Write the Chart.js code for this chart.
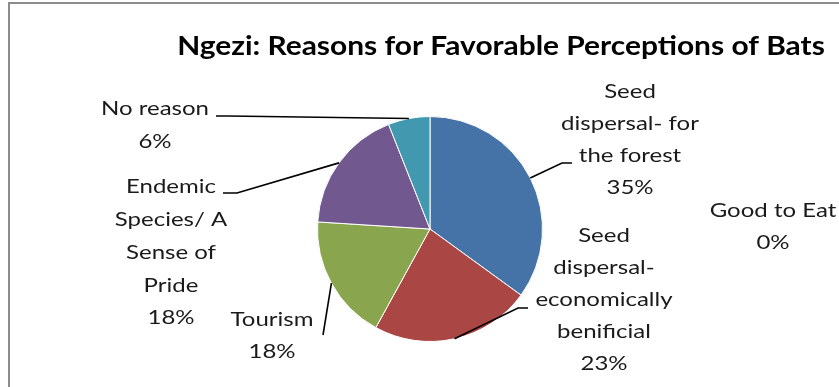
<!DOCTYPE html>
<html>
<head>
    <title>Ngezi: Reasons for Favorable Perceptions of Bats</title>
    <script src="https://cdn.jsdelivr.net/npm/chart.js"></script>
    <style>
        html, body {
            margin: 0;
            padding: 0;
            background: #fff;
        }
        .frame {
            position: absolute;
            left: 8px;
            top: 2px;
            width: 900px;
            height: 500px;
            border: 2px solid #8c8c8c;
        }
        #wrap {
            position: absolute;
            left: 0;
            top: 0;
            width: 839px;
            height: 387px;
        }
    </style>
</head>
<body>
    <div class="frame"></div>
    <div id="wrap"><canvas id="batChart" width="839" height="387"></canvas></div>

    <script>
        const chartTitle = 'Ngezi: Reasons for Favorable Perceptions of Bats';
        const categories = [
            'Seed dispersal- for the forest',
            'Seed dispersal- economically benificial',
            'Tourism',
            'Endemic Species/ A Sense of Pride',
            'No reason',
            'Good to Eat'
        ];
        const percentages = [35, 23, 18, 18, 6, 0];
        const sliceColors = ['#4572A7', '#AA4643', '#89A54E', '#71588F', '#4198AF', '#DB843D'];

        // how each label is wrapped and where it sits; elbow = bend of the leader line
        const labelLayout = [
            { lines: ['Seed', 'dispersal- for', 'the forest'], x: 630, y: 92, step: 32, elbow: [562, 163], end: [572, 163] },
            { lines: ['Seed', 'dispersal-', 'economically', 'benificial'], x: 604, y: 236, step: 32, elbow: [518, 308], end: [528, 308] },
            { lines: ['Tourism'], x: 272, y: 320, step: 32, elbow: null, end: [323, 335] },
            { lines: ['Endemic', 'Species/ A', 'Sense of', 'Pride'], x: 171, y: 187, step: 32.7, elbow: [237, 193], end: [223, 193] },
            { lines: ['No reason'], x: 155, y: 109, step: 33, elbow: [228, 116], end: [216, 116] },
            { lines: ['Good to Eat'], x: 773, y: 211, step: 32, elbow: null, end: null }
        ];

        const FONT = 'Lato, "Open Sans", sans-serif';

        function stretchedText(ctx, text, x, y, sx) {
            ctx.save();
            ctx.translate(x, y);
            ctx.scale(sx, 1);
            ctx.fillText(text, 0, 0);
            ctx.restore();
        }

        const pieLabels = {
            id: 'pieLabels',
            afterDraw(chart) {
                const ctx = chart.ctx;
                const arcs = chart.getDatasetMeta(0).data;
                ctx.save();

                // title
                ctx.fillStyle = '#000';
                ctx.textAlign = 'center';
                ctx.textBaseline = 'middle';
                ctx.font = 'bold 26px ' + FONT;
                stretchedText(ctx, chartTitle, 501, 47, 1.15);

                // leader lines from the middle of each slice's rim
                ctx.strokeStyle = '#000';
                ctx.lineWidth = 1.6;
                arcs.forEach((arc, i) => {
                    const lay = labelLayout[i];
                    if (!lay.end || percentages[i] === 0) return;
                    const mid = (arc.startAngle + arc.endAngle) / 2;
                    const sx = arc.x + Math.cos(mid) * arc.outerRadius;
                    const sy = arc.y + Math.sin(mid) * arc.outerRadius;
                    ctx.beginPath();
                    ctx.moveTo(sx, sy);
                    if (lay.elbow) ctx.lineTo(lay.elbow[0], lay.elbow[1]);
                    ctx.lineTo(lay.end[0], lay.end[1]);
                    ctx.stroke();
                });

                // label text plus percentage
                ctx.fillStyle = '#1a1a1a';
                ctx.font = '20px ' + FONT;
                labelLayout.forEach((lay, i) => {
                    const lines = lay.lines.concat([percentages[i] + '%']);
                    lines.forEach((line, j) => {
                        stretchedText(ctx, line, lay.x, lay.y + j * lay.step, 1.2);
                    });
                });
                ctx.restore();
            }
        };

        new Chart(document.getElementById('batChart'), {
            type: 'pie',
            data: {
                labels: categories,
                datasets: [{
                    data: percentages,
                    backgroundColor: sliceColors,
                    borderColor: '#ffffff',
                    borderWidth: 1
                }]
            },
            options: {
                responsive: false,
                animation: false,
                layout: {
                    padding: { left: 317, right: 296, top: 116, bottom: 45 }
                },
                plugins: {
                    legend: { display: false },
                    tooltip: { enabled: false },
                    title: { display: false }
                }
            },
            plugins: [pieLabels]
        });
    </script>
</body>
</html>
